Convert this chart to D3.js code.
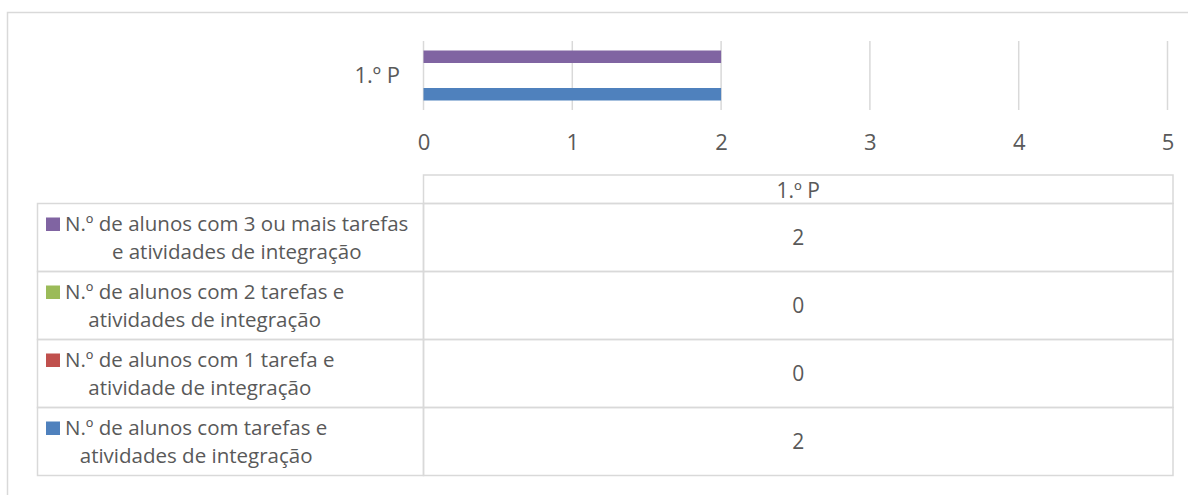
<!DOCTYPE html>
<html>
<head>
<meta charset="utf-8">
<script src="https://cdn.jsdelivr.net/npm/d3@7"></script>
<style>
  html, body { margin: 0; padding: 0; background: #fff; }
  svg { display: block; font-family: "Open Sans", "Noto Sans", sans-serif; }
</style>
</head>
<body>
<svg id="chart" width="1188" height="495"></svg>
<script>
// ---- data ----
const categories = ["1.º P"];
const seriesNames = [
  ["N.º de alunos com tarefas e", "atividades de integração"],
  ["N.º de alunos com 1 tarefa e", "atividade de integração"],
  ["N.º de alunos com 2 tarefas e", "atividades de integração"],
  ["N.º de alunos com 3 ou mais tarefas", "e atividades de integração"]
];
const seriesColors = ["#4F81BD", "#C0504D", "#9BBB59", "#8064A2"];
const values1P = [2, 0, 0, 2];   // one value per series for "1.º P"
const xTicks = [0, 1, 2, 3, 4, 5];

// ---- layout ----
const svg = d3.select("#chart");
const textColor = "#595959";
const gridColor = "#d9d9d9";

// outer frame
svg.append("rect")
  .attr("x", 7.5).attr("y", 12.5)
  .attr("width", 1200).attr("height", 500)
  .attr("fill", "none").attr("stroke", gridColor).attr("stroke-width", 1.5);

const x = d3.scaleLinear().domain([0, 5]).range([423.5, 1167.5]);
const y0 = d3.scaleBand().domain(categories).range([41, 110]).paddingOuter(0.19).paddingInner(0);
// series index 0 at bottom (Excel horizontal bar ordering)
const y1 = d3.scaleBand().domain(d3.range(seriesNames.length).reverse()).range([0, y0.bandwidth()]);

// gridlines
svg.append("g")
  .selectAll("line").data(xTicks).join("line")
  .attr("x1", d => x(d)).attr("x2", d => x(d))
  .attr("y1", 41).attr("y2", 110)
  .attr("stroke", gridColor).attr("stroke-width", 1.5);

// bars
const catG = svg.append("g").selectAll("g").data(categories).join("g")
  .attr("transform", c => `translate(0,${y0(c)})`);
catG.selectAll("rect")
  .data((c, ci) => values1P.map((v, i) => ({ v, i })))
  .join("rect")
  .attr("x", x(0))
  .attr("y", d => y1(d.i))
  .attr("width", d => x(d.v) - x(0))
  .attr("height", y1.bandwidth())
  .attr("fill", d => seriesColors[d.i]);

// category label
svg.append("g").selectAll("text").data(categories).join("text")
  .attr("x", 400).attr("y", c => y0(c) + y0.bandwidth() / 2)
  .attr("dy", "0.35em")
  .attr("text-anchor", "end")
  .attr("font-size", 22).attr("fill", textColor)
  .text(c => c);

// x axis tick labels
const xAxis = d3.axisBottom(x).tickValues(xTicks).tickSize(0).tickPadding(0).tickFormat(d3.format("d"));
const axG = svg.append("g").attr("transform", "translate(0,134)").call(xAxis);
axG.select(".domain").remove();
axG.selectAll("text").attr("font-size", 22).attr("fill", textColor)
  .attr("font-family", "\"Open Sans\", sans-serif");

// ---- data table ----
const tableLeft = 37.5, colLeft = 423.5, tableRight = 1173;
const headerTop = 175, headerBottom = 203.5, rowH = 68;
const tableG = svg.append("g");
const border = sel => sel.attr("fill", "none").attr("stroke", gridColor).attr("stroke-width", 1.5);

// header cell
tableG.append("rect").attr("x", colLeft).attr("y", headerTop)
  .attr("width", tableRight - colLeft).attr("height", headerBottom - headerTop).call(border);
tableG.selectAll("text.hdr").data(categories).join("text").attr("class", "hdr")
  .attr("x", (colLeft + tableRight) / 2).attr("y", (headerTop + headerBottom) / 2 + 1)
  .attr("dy", "0.35em").attr("text-anchor", "middle")
  .attr("font-size", 21).attr("fill", textColor).text(c => c);

// rows: top row is last series
const rowOrder = d3.range(seriesNames.length).reverse();
rowOrder.forEach((si, r) => {
  const top = headerBottom + r * rowH;
  tableG.append("rect").attr("x", tableLeft).attr("y", top)
    .attr("width", colLeft - tableLeft).attr("height", rowH).call(border);
  tableG.append("rect").attr("x", colLeft).attr("y", top)
    .attr("width", tableRight - colLeft).attr("height", rowH).call(border);

  // swatch
  tableG.append("rect").attr("x", 46).attr("y", top + 14).attr("width", 14).attr("height", 13.5)
    .attr("fill", seriesColors[si]);
  const lines = seriesNames[si];
  const t1 = tableG.append("text").attr("x", 65).attr("y", top + 27.5)
    .attr("font-size", 20.5).attr("fill", textColor).text(lines[0]);
  const w1 = t1.node().getComputedTextLength();
  tableG.append("text").attr("x", 65 + w1 / 2).attr("y", top + 55)
    .attr("text-anchor", "middle")
    .attr("font-size", 20.5).attr("fill", textColor).text(lines[1]);

  // value
  tableG.append("text").attr("x", (colLeft + tableRight) / 2).attr("y", top + rowH / 2)
    .attr("dy", "0.35em").attr("text-anchor", "middle")
    .attr("font-size", 21).attr("fill", textColor).text(values1P[si]);
});
</script>
</body>
</html>
